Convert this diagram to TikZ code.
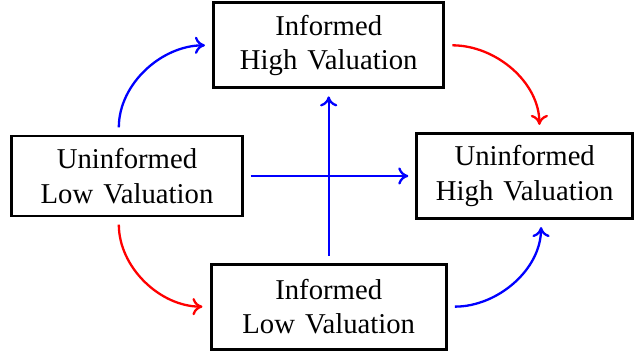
\documentclass[tikz,border=0pt]{standalone}
\usepackage{fontspec}
\setmainfont[WordSpace=1.4]{Liberation Serif}
\usetikzlibrary{arrows.meta, positioning, calc}

\tikzset{
  state/.style={draw, line width=1pt, align=center, minimum width=2.82cm, minimum height=1.04cm, inner sep=2pt},
  move/.style={thick, -{To[length=3.5pt, width=6pt]}, shorten <=2.5pt, shorten >=2.5pt},
}

\begin{document}
\begin{tikzpicture}
  \useasboundingbox (-1.555,-2.18) rectangle (6.233,2.155);

  % the four states
  \node[state, minimum height=0.98cm] (lu) at (0,0) {Uninformed\\Low Valuation};
  \node[state] (hi) at (2.47,1.6) {Informed\\High Valuation};
  \node[state, minimum width=2.64cm] (hu) at (4.87,0) {Uninformed\\High Valuation};
  \node[state, minimum width=2.88cm] (li) at (2.47,-1.6) {Informed\\Low Valuation};

  % transitions
  \draw[move, blue] ([xshift=-0.1cm]lu.north) to[out=90, in=180] (hi.west);
  \draw[move, red] (hi.east) to[out=0, in=90] ([xshift=0.18cm]hu.north);
  \draw[move, red] ([xshift=-0.1cm]lu.south) to[out=-90, in=180] (li.west);
  \draw[move, blue] (li.east) to[out=0, in=-90] ([xshift=0.2cm]hu.south);
  \draw[move, blue] (lu.east) -- (hu.west);
  \draw[move, blue] (li.north) -- (hi.south);
\end{tikzpicture}
\end{document}
